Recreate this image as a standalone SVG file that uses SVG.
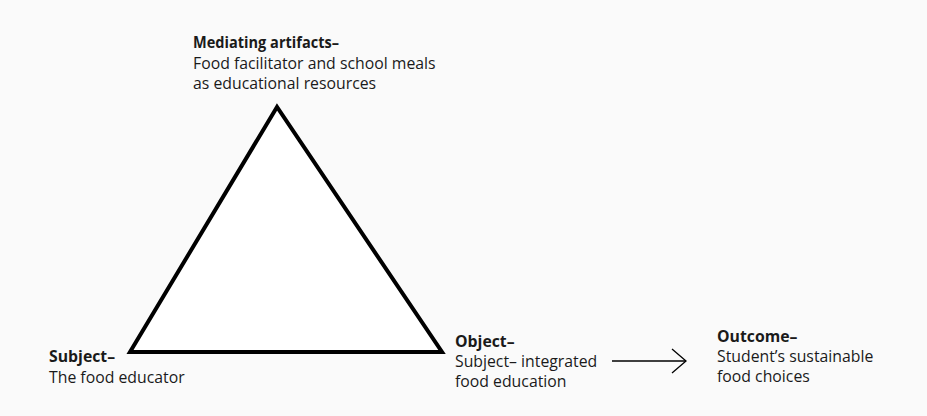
<svg xmlns="http://www.w3.org/2000/svg" width="927" height="416" viewBox="0 0 927 416">
  <style>
    text { font-family: "Open Sans", "Noto Sans", sans-serif; font-size: 15.8px; fill: #1a1a1a; }
    .head { font-weight: bold; }
    .edge { stroke: #000; stroke-width: 4; fill: #fff; stroke-linejoin: miter; }
    .flow { stroke: #000; stroke-width: 1.3; fill: none; }
  </style>
  <rect width="927" height="416" fill="#fafafa"/>

  <!-- activity triangle -->
  <g id="triangle">
    <polygon class="edge" points="277,107 130,352 442,352"/>
  </g>

  <g id="mediating">
    <text x="193" y="48" class="head" textLength="146" lengthAdjust="spacingAndGlyphs">Mediating artifacts–</text>
    <text x="193" y="69">Food facilitator and school meals</text>
    <text x="193" y="89">as educational resources</text>
  </g>

  <g id="subject">
    <text x="49" y="362" class="head">Subject–</text>
    <text x="49" y="383">The food educator</text>
  </g>

  <g id="object">
    <text x="455" y="347" class="head">Object–</text>
    <text x="455" y="367">Subject– integrated</text>
    <text x="455" y="387">food education</text>
  </g>

  <g id="outcome">
    <text x="717" y="342" class="head">Outcome–</text>
    <text x="717" y="362">Student’s sustainable</text>
    <text x="717" y="382">food choices</text>
  </g>

  <!-- object to outcome -->
  <g id="connectors">
    <line class="flow" x1="612" y1="361" x2="686" y2="361"/>
    <polyline class="flow" points="672,349 686,361 672,373"/>
  </g>
</svg>
